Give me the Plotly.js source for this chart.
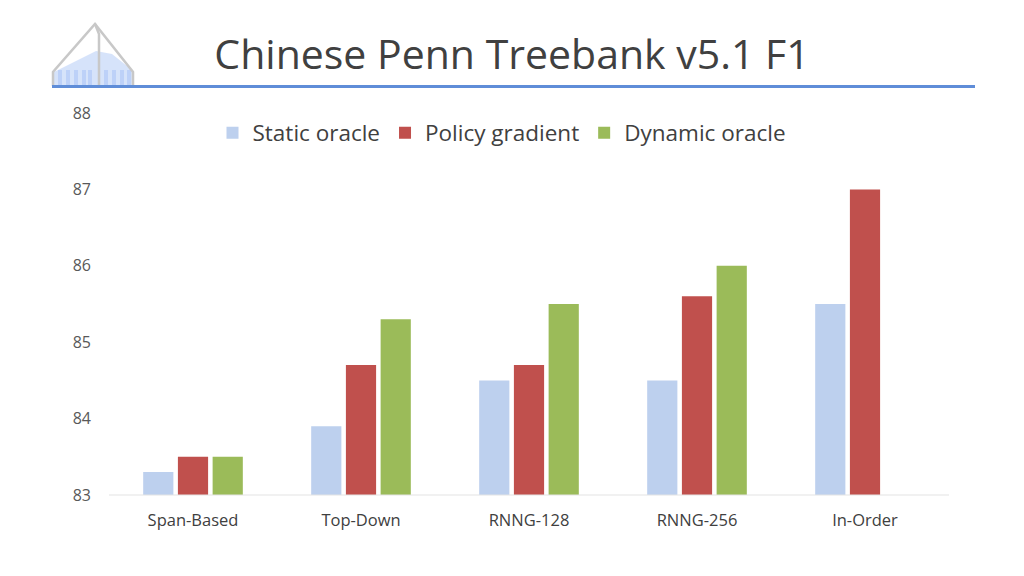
<!DOCTYPE html>
<html><head><meta charset="utf-8">
<script src="https://cdn.plot.ly/plotly-3.0.1.min.js"></script>
<style>html,body{margin:0;padding:0;background:#fff;}#chart{width:1024px;height:576px;}</style>
</head><body><div id="chart"></div>
<script>
const categories = ["Span-Based", "Top-Down", "RNNG-128", "RNNG-256", "In-Order"];
const staticOracle = [83.3, 83.9, 84.5, 84.5, 85.5];
const policyGradient = [83.5, 84.7, 84.7, 85.6, 87.0];
const dynamicOracle = [83.5, 85.3, 85.5, 86.0, null];
const yTicks = [83, 84, 85, 86, 87, 88];
const seriesNames = ["Static oracle", "Policy gradient", "Dynamic oracle"];
const titleText = "Chinese Penn Treebank v5.1 F1";

const L = 109, R = 949, T = 113, B = 495;
const px = x => (x - L) / (R - L);
const py = y => (B - y) / (B - T);
const font = "Open Sans, Noto Sans, sans-serif";

const traces = [
  {type: "bar", name: seriesNames[0], x: categories, y: staticOracle, marker: {color: "#BDD0EE"}},
  {type: "bar", name: seriesNames[1], x: categories, y: policyGradient, marker: {color: "#C0504D"}},
  {type: "bar", name: seriesNames[2], x: categories, y: dynamicOracle, marker: {color: "#9BBB59"}}
];

function path(pts, close) {
  return "M " + pts.map(p => px(p[0]) + "," + py(p[1])).join(" L ") + (close ? " Z" : "");
}

const shapes = [
  // logo fill
  {type: "path", xref: "paper", yref: "paper", path: path([[54,72],[96,51],[112,54],[132,70],[132,86],[54,86]], true),
   fillcolor: "rgba(200,218,248,0.75)", line: {width: 0}}
];
// logo windows
[58, 66, 74, 82, 88, 104, 112, 120, 127].forEach(x => {
  shapes.push({type: "rect", xref: "paper", yref: "paper", x0: px(x), x1: px(x + 4), y0: py(85), y1: py(70),
    fillcolor: "rgba(170,195,245,0.55)", line: {width: 0}});
});
shapes.push(
  {type: "path", xref: "paper", yref: "paper", path: path([[53,86],[53,72],[95,24],[133,72],[133,86]], false),
   fillcolor: "rgba(0,0,0,0)", line: {color: "#C8C8C8", width: 2.5}},
  {type: "path", xref: "paper", yref: "paper", path: path([[95,24],[99,34],[99,86]], false),
   fillcolor: "rgba(0,0,0,0)", line: {color: "#C8C8C8", width: 2.5}},
  // blue rule
  {type: "line", xref: "paper", yref: "paper", x0: px(52), y0: py(86.5), x1: px(975), y1: py(86.5), line: {color: "#5F8DD8", width: 3}},
  // baseline
  {type: "line", xref: "paper", yref: "paper", x0: 0, y0: 0, x1: 1, y1: 0, line: {color: "#E3E3E3", width: 1.2}}
);

const layout = {
  width: 1024, height: 576,
  margin: {l: L, r: 1024 - R, t: T, b: 576 - B},
  paper_bgcolor: "#fff", plot_bgcolor: "#fff",
  title: {text: titleText, x: 0.5, xref: "container", xanchor: "center", y: 1 - 55 / 576, yref: "container", yanchor: "middle",
    font: {family: font, size: 41, color: "#404040"}},
  barmode: "group", bargap: 0.38, bargroupgap: 0.13,
  showlegend: true,
  legend: {orientation: "h", x: px(502), xanchor: "center", y: py(133), yanchor: "middle",
    font: {family: font, size: 22.5, color: "#404040"}, itemwidth: 30, traceorder: "normal", bgcolor: "rgba(0,0,0,0)"},
  xaxis: {type: "category", showgrid: false, zeroline: false, showline: false, ticks: "",
    tickfont: {family: font, size: 16.5, color: "#404040"}, ticklabelstandoff: 13},
  yaxis: {range: [83, 88], tickvals: yTicks, ticktext: yTicks.map(String), showgrid: false, zeroline: false, showline: false,
    ticks: "", tickfont: {family: font, size: 16, color: "#595959"}, ticklabelstandoff: 17},
  shapes: shapes,
  font: {family: font}
};

Plotly.newPlot("chart", traces, layout, {displayModeBar: false, staticPlot: true});
</script></body></html>
